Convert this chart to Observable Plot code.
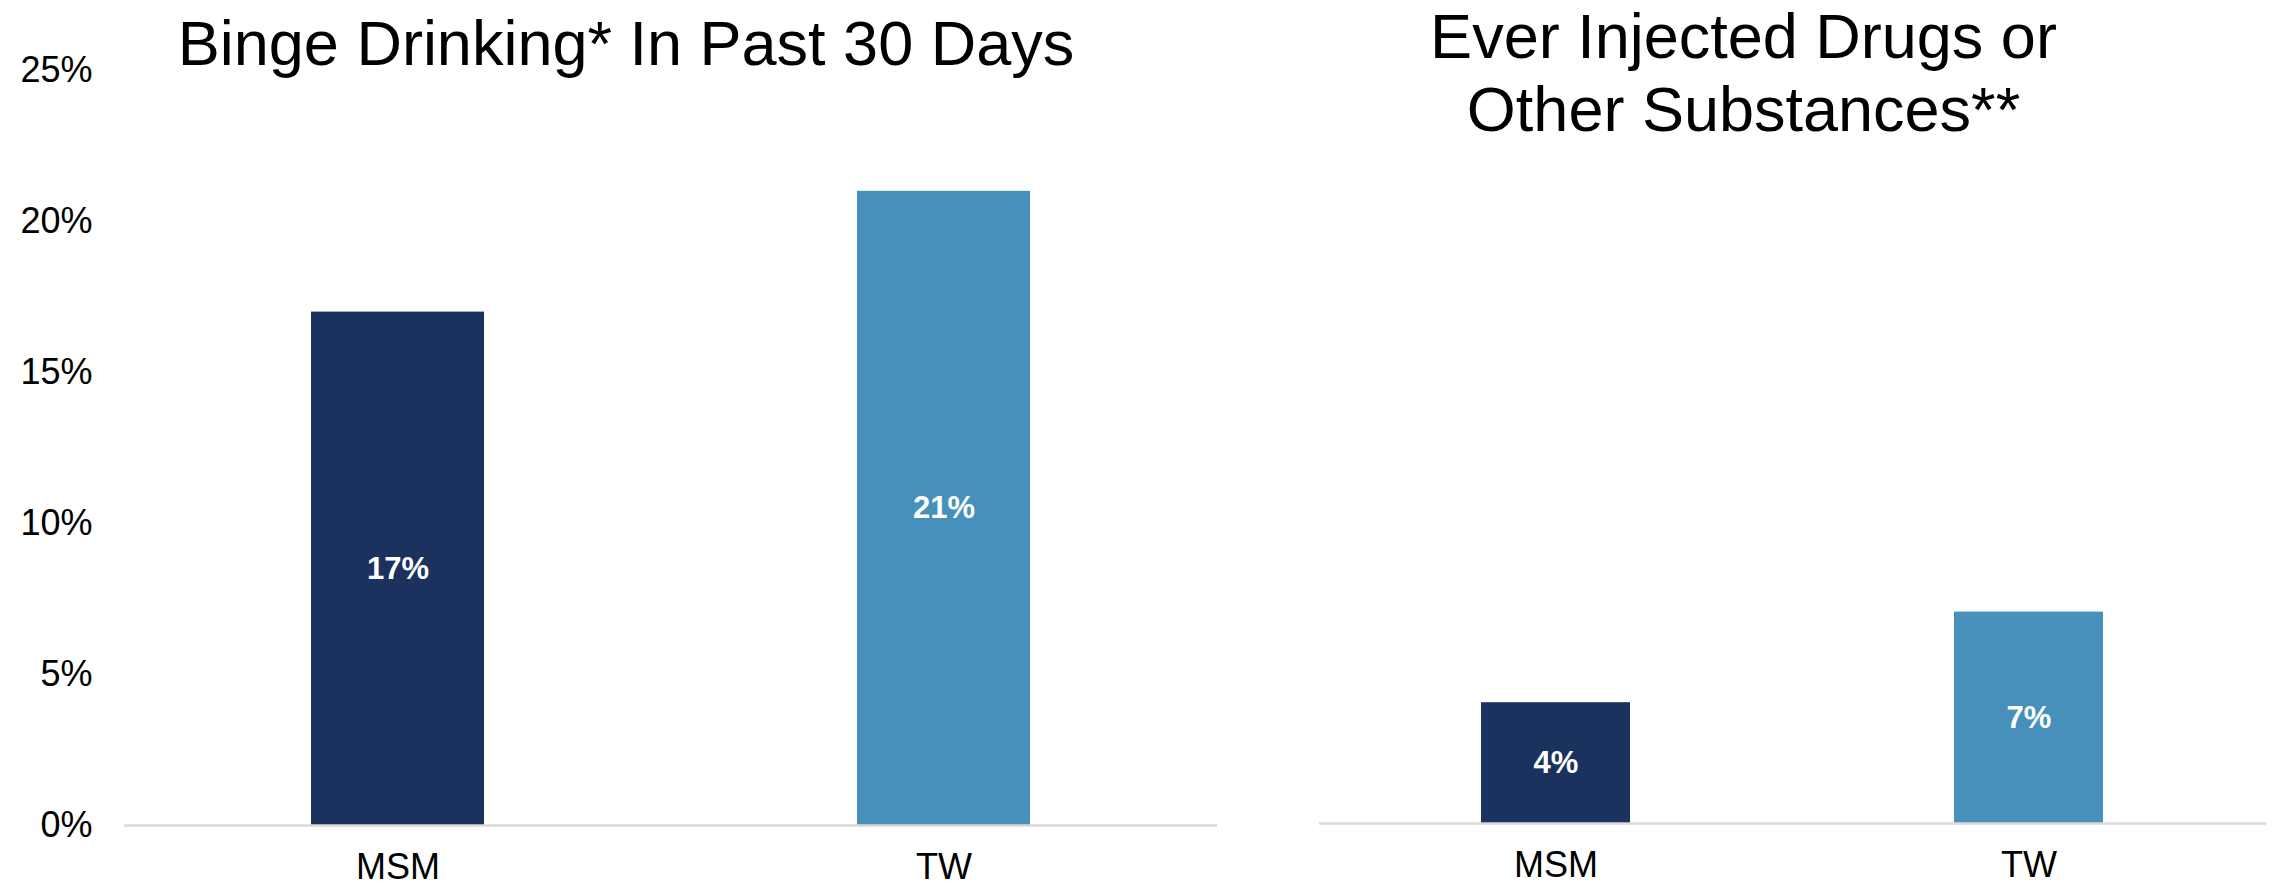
<!DOCTYPE html>
<html>
<head>
<meta charset="utf-8">
<script src="https://cdn.jsdelivr.net/npm/d3@7"></script>
<script src="https://cdn.jsdelivr.net/npm/@observablehq/plot@0.6"></script>
<style>
  html, body { margin: 0; padding: 0; background: #fff; }
  #wrap { position: relative; width: 2277px; height: 886px; overflow: hidden; }
  #left { position: absolute; left: 0; top: 0; }
  #right { position: absolute; left: 1260px; top: 0; }
</style>
</head>
<body>
<div id="wrap">
  <div id="left"></div>
  <div id="right"></div>
</div>
<script>
// Population groups and their colours
const groups = ["MSM", "TW"];
const groupColors = ["#1b325f", "#4690bb"];

// Percent of each group, per indicator
const bingeValues = [17, 21];
const injectValues = [4, 7];

// Shared percent axis
const yTicks = [0, 5, 10, 15, 20, 25];
const yDomain = [0, 25];

// Panel titles
const bingeTitle = "Binge Drinking* In Past 30 Days";
const injectTitle = "Ever Injected Drugs or\nOther Substances**";

const FONT = "'Liberation Sans', Arial, Helvetica, sans-serif";

function panel({values, title, width, marginLeft, marginRight, marginTop, marginBottom, showY, titleDx, titleDy}) {
  const rows = groups.map((g, i) => ({group: g, value: values[i]}));
  return Plot.plot({
    width,
    height: 886,
    marginLeft,
    marginRight,
    marginTop,
    marginBottom,
    style: {fontFamily: FONT, fontSize: "36px", color: "#000", background: "transparent", overflow: "visible"},
    x: {domain: groups, paddingInner: 0.684, paddingOuter: 0.342, label: null, axis: null},
    y: {domain: yDomain, label: null, axis: null},
    color: {domain: groups, range: groupColors},
    marks: [
      Plot.barY(rows, {x: "group", y: "value", fill: "group"}),
      Plot.ruleY([0], {stroke: "#d9d9d9", strokeWidth: 2.5}),
      Plot.text(rows, {
        x: "group",
        y: d => d.value / 2,
        text: d => `${d.value}%`,
        fill: "#fff",
        fontWeight: "bold",
        fontSize: 31
      }),
      showY
        ? Plot.axisY({ticks: yTicks, tickFormat: d => `${d}%`, tickSize: 0, tickPadding: 32, fontSize: 36, label: null})
        : null,
      Plot.axisX({tickSize: 0, tickPadding: 28, fontSize: 36, label: null}),
      Plot.text([title], {
        text: d => d,
        frameAnchor: "top",
        lineAnchor: "top",
        lineHeight: 1.159,
        dx: titleDx,
        dy: titleDy,
        fontSize: 63,
        fill: "#000"
      })
    ]
  });
}

document.getElementById("left").appendChild(panel({
  values: bingeValues,
  title: bingeTitle,
  width: 1240,
  marginLeft: 124,
  marginRight: 23,
  marginTop: 70,
  marginBottom: 61,
  showY: true,
  titleDx: -45,
  titleDy: -57
}));

document.getElementById("right").appendChild(panel({
  values: injectValues,
  title: injectTitle,
  width: 1017,
  marginLeft: 59,
  marginRight: 11,
  marginTop: 68,
  marginBottom: 63,
  showY: false,
  titleDx: -49.5,
  titleDy: -62
}));
</script>
</body>
</html>
